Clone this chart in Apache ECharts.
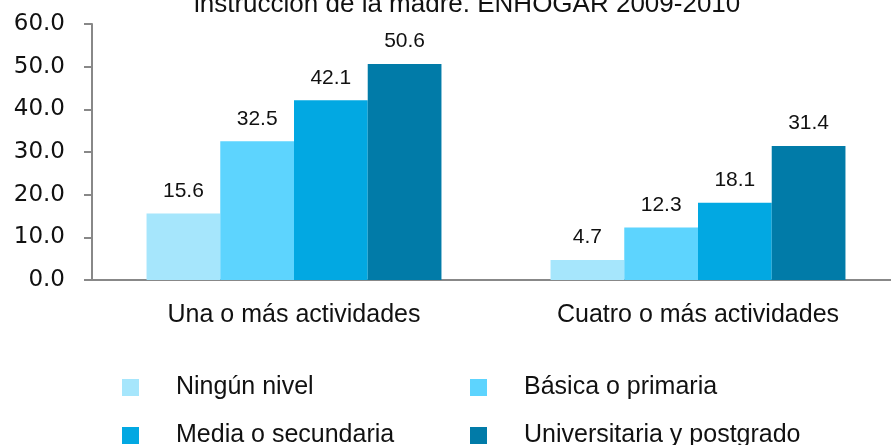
<!DOCTYPE html>
<html><head><meta charset="utf-8">
<script src="https://cdn.jsdelivr.net/npm/echarts@6/dist/echarts.min.js"></script>
<style>html,body{margin:0;padding:0;background:#fff}#c{width:891px;height:445px}</style>
</head><body><div id="c"></div>
<script>
const titleText = 'instrucción de la madre. ENHOGAR 2009-2010';
const categories = ['Una o más actividades', 'Cuatro o más actividades'];
const seriesNames = ['Ningún nivel', 'Básica o primaria', 'Media o secundaria', 'Universitaria y postgrado'];
const ningun = [15.6, 4.7];
const basica = [32.5, 12.3];
const media = [42.1, 18.1];
const universitaria = [50.6, 31.4];
const yTicks = [0, 10, 20, 30, 40, 50, 60];
const colors = ['#A6E6FC', '#5DD4FE', '#02A8E2', '#017BA8'];
const values = [ningun, basica, media, universitaria];

const chart = echarts.init(document.getElementById('c'), null, {renderer: 'canvas'});
const legendPos = [[122, 375], [470, 375], [122, 423], [470, 423]];
const option = {
  animation: false,
  color: colors,
  title: {
    text: titleText, left: 189, top: -13,
    textStyle: {fontFamily: 'Liberation Sans', fontSize: 26, fontWeight: 'normal', color: '#111'}
  },
  legend: seriesNames.map((n, i) => ({
    data: [n], left: legendPos[i][0], top: legendPos[i][1],
    icon: 'rect', itemWidth: 17, itemHeight: 17, padding: 0,
    textStyle: {fontFamily: 'Liberation Sans', fontSize: 25, color: '#111', padding: [0, 0, 0, 32]}
  })),
  grid: {left: 92, top: 24, width: 808, height: 256, outerBoundsMode: 'none', containLabel: false},
  xAxis: {
    type: 'category', data: categories,
    axisLine: {lineStyle: {color: '#888', width: 2}},
    axisTick: {show: false},
    axisLabel: {fontFamily: 'Liberation Sans', fontSize: 25, color: '#111', margin: 23}
  },
  yAxis: {
    type: 'value', min: yTicks[0], max: yTicks[yTicks.length - 1], interval: 10,
    axisLine: {show: true, lineStyle: {color: '#888', width: 2}},
    axisTick: {show: true, length: 8, lineStyle: {color: '#888', width: 2}},
    splitLine: {show: false},
    axisLabel: {fontFamily: 'DejaVu Sans', fontSize: 23, color: '#111', margin: 27,
      formatter: v => v.toFixed(1)}
  },
  series: seriesNames.map((n, i) => ({
    name: n, type: 'bar', data: values[i], barGap: '0%', barCategoryGap: '27%',
    itemStyle: {color: colors[i]},
    label: {show: true, position: 'top', distance: 12, fontFamily: 'Liberation Sans', fontSize: 21, color: '#111',
      formatter: p => p.value.toFixed(1)}
  }))
};
chart.setOption(option);
</script></body></html>
